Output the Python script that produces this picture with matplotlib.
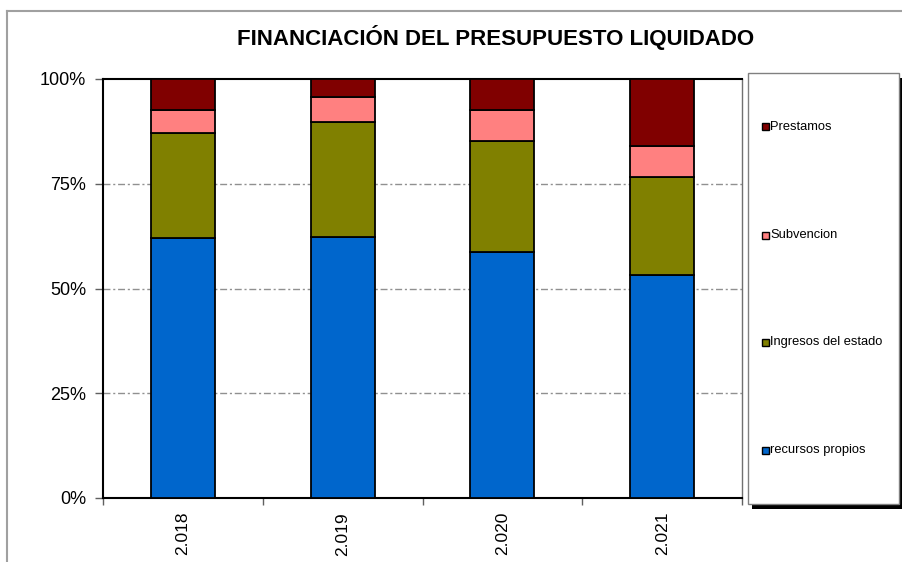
import matplotlib
matplotlib.use("Agg")
import matplotlib.pyplot as plt
from matplotlib.patches import Rectangle
import numpy as np

plt.rcParams['font.family'] = ['Liberation Sans', 'DejaVu Sans']
plt.rcParams['lines.scale_dashes'] = False

years = ["2.018", "2.019", "2.020", "2.021"]
series_names = ["recursos propios", "Ingresos del estado", "Subvencion", "Prestamos"]
recursos_propios = [62.0, 62.4, 58.7, 53.2]
ingresos_estado = [25.2, 27.4, 26.6, 23.5]
subvencion = [5.4, 5.8, 7.3, 7.2]
prestamos = [7.4, 4.4, 7.4, 16.1]
colors = ["#0066CC", "#808000", "#FF8080", "#800000"]
title = "FINANCIACIÓN DEL PRESUPUESTO LIQUIDADO"

W, H = 902, 562
fig = plt.figure(figsize=(W / 100, H / 100), dpi=100)

def fx(px):
    return px / W

def fy(py):
    return 1 - py / H

# outer chart frame (left & top visible)
fig.add_artist(plt.Line2D([fx(7), fx(7)], [fy(11), 0], color="#a0a0a0", lw=1.5))
fig.add_artist(plt.Line2D([fx(7), 1], [fy(11), fy(11)], color="#a0a0a0", lw=1.5))

ax = fig.add_axes([fx(103), fy(498), fx(742) - fx(103), (498 - 79) / H])

data = np.array([recursos_propios, ingresos_estado, subvencion, prestamos], dtype=float)
data = data / data.sum(axis=0) * 100
x = np.arange(len(years))
bottom = np.zeros(len(years))
for vals, c, name in zip(data, colors, series_names):
    ax.bar(x, vals, width=0.4, bottom=bottom, color=c, edgecolor="black",
           linewidth=1.3, label=name, zorder=3)
    bottom += vals

ax.set_xlim(-0.5, len(years) - 0.5)
ax.set_ylim(0, 100)
ax.set_yticks([0, 25, 50, 75, 100])
ax.set_yticklabels(["0%", "25%", "50%", "75%", "100%"], fontsize=13)
ax.set_xticks(x)
ax.set_xticklabels(years, rotation=90, fontsize=12.5)
ax.tick_params(axis="x", which="major", length=0, pad=10)
ax.set_xticks(np.arange(len(years) + 1) - 0.5, minor=True)
ax.tick_params(axis="x", which="minor", length=5, width=1, color="#606060")
ax.tick_params(axis="y", length=6, width=1, color="#606060", pad=6)

for yv in [25, 50, 75]:
    ax.axhline(yv, color="#909090", lw=1.0, dashes=(5, 2, 1.5, 2), zorder=1)

for s in ["left", "bottom", "top"]:
    ax.spines[s].set_color("black")
    ax.spines[s].set_linewidth(1.5)
ax.spines["right"].set_color("#707070")
ax.spines["right"].set_linewidth(1.0)

fig.text(fx(496), fy(38), title, ha="center", va="center", fontsize=16,
         fontweight="bold")

# legend box with black shadow
lx0, ly0, lx1, ly1 = 748, 73, 899, 504
fig.add_artist(Rectangle((fx(lx0 + 4), fy(ly1 + 5)), fx(lx1 - lx0), (ly1 - ly0) / H,
                         facecolor="black", edgecolor="none", transform=fig.transFigure))
fig.add_artist(Rectangle((fx(lx0), fy(ly1)), fx(lx1 - lx0), (ly1 - ly0) / H,
                         facecolor="white", edgecolor="#808080", lw=1.0,
                         transform=fig.transFigure))
ypos = [450, 342, 235, 127]
for name, c, yp in zip(series_names, colors, ypos):
    fig.add_artist(Rectangle((fx(762), fy(yp + 3.5)), fx(7), 7 / H, facecolor=c,
                             edgecolor="black", lw=1.0, transform=fig.transFigure))
    fig.text(fx(770), fy(yp), name, ha="left", va="center", fontsize=9.3)

fig.savefig("out.png", dpi=100)
